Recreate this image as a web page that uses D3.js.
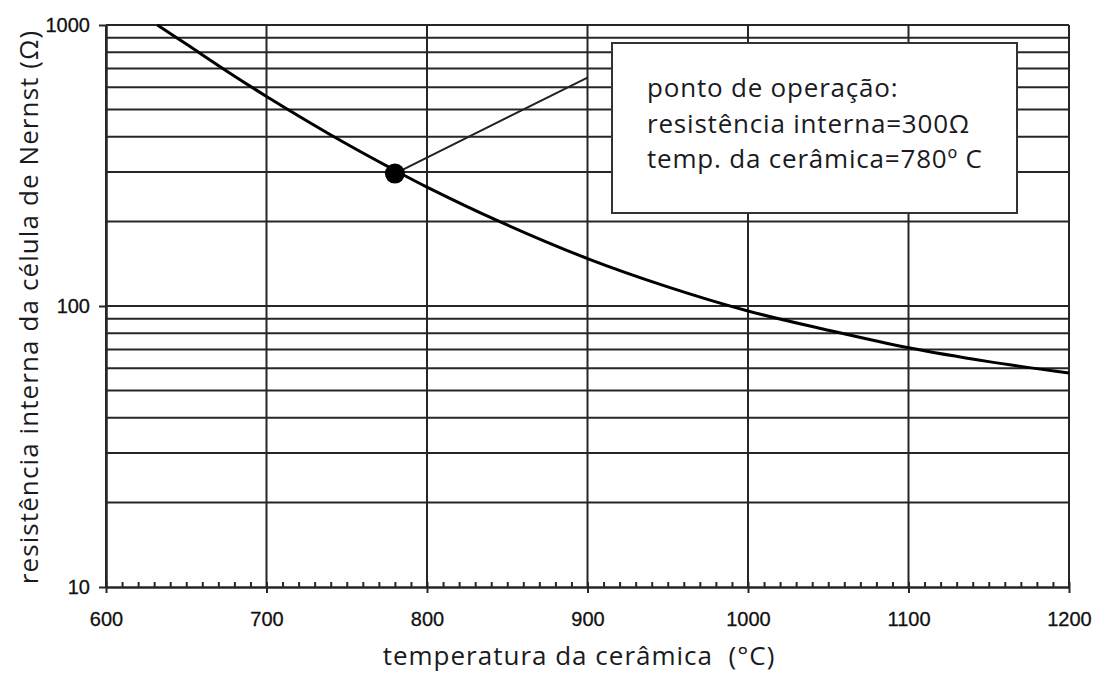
<!DOCTYPE html>
<html>
<head>
<meta charset="utf-8">
<script src="https://cdn.jsdelivr.net/npm/d3@7"></script>
<style>
  html, body { margin: 0; padding: 0; background: #fff; }
  svg { display: block; }
</style>
</head>
<body>
<svg id="chart" width="1093" height="673"></svg>
<script>
// ---- data ----
const temps       = [632, 650, 677, 700, 750, 780, 800, 845, 900, 950, 1000, 1050, 1100, 1150, 1200];
const resistances = [1000, 855, 675, 557, 377, 304, 265, 200, 147.5, 117, 96, 82, 71, 63.4, 57.8];
const opPoint     = [780, 296];
const leaderEnd   = [900, 650];
const xTickValues = [600, 700, 800, 900, 1000, 1100, 1200];
const xMinorTicks = d3.range(600, 1201, 10);
const yTickValues = [10, 100, 1000];
const yGridValues = [20, 30, 40, 50, 60, 70, 80, 90, 100, 200, 300, 400, 500, 600, 700, 800, 900, 1000];
const noteLines   = ["ponto de operação:", "resistência interna=300Ω", "temp. da cerâmica=780º C"];
const xTitle      = "temperatura da cerâmica  (°C)";
const yTitle      = "resistência interna da célula de Nernst (Ω)";

// ---- layout ----
const svg = d3.select("#chart");
const x = d3.scaleLinear().domain([600, 1200]).range([106, 1069]);
const y = d3.scaleLog().domain([10, 1000]).range([587, 25]);
const gridColor = "#262626";

// horizontal grid
svg.append("g").selectAll("line").data(yGridValues).join("line")
  .attr("x1", x(600)).attr("x2", x(1200))
  .attr("y1", d => y(d)).attr("y2", d => y(d))
  .attr("stroke", gridColor).attr("stroke-width", 2);

// vertical grid
svg.append("g").selectAll("line").data(xTickValues).join("line")
  .attr("x1", d => x(d)).attr("x2", d => x(d))
  .attr("y1", y(10)).attr("y2", y(1000))
  .attr("stroke", gridColor).attr("stroke-width", 2);

// minor x ticks (upward)
const minorAxis = svg.append("g").attr("transform", `translate(0,${y(10)})`)
  .call(d3.axisBottom(x).tickValues(xMinorTicks).tickSize(-5).tickFormat(""));
minorAxis.select(".domain").remove();
minorAxis.selectAll("line").attr("stroke", gridColor).attr("stroke-width", 2);

// major x axis
const xAxis = svg.append("g").attr("transform", `translate(0,${y(10)})`)
  .call(d3.axisBottom(x).tickValues(xTickValues).tickFormat(d3.format("d"))
    .tickSize(6).tickPadding(19).tickSizeOuter(0));
xAxis.select(".domain").attr("stroke", gridColor).attr("stroke-width", 2.5);
xAxis.selectAll("line").attr("stroke", gridColor).attr("stroke-width", 2);
xAxis.selectAll("text")
  .attr("font-family", "'Liberation Sans', Arial, sans-serif")
  .attr("font-size", 20).attr("fill", "#111")
  .attr("stroke", "#111").attr("stroke-width", 0.3);

// y axis
const yAxis = svg.append("g").attr("transform", `translate(${x(600)},0)`)
  .call(d3.axisLeft(y).tickValues(yTickValues).tickFormat(d3.format("d"))
    .tickSize(7).tickPadding(9).tickSizeOuter(0));
yAxis.select(".domain").attr("stroke", gridColor).attr("stroke-width", 2.5);
yAxis.selectAll("line").attr("stroke", gridColor).attr("stroke-width", 2);
yAxis.selectAll("text")
  .attr("font-family", "'Liberation Sans', Arial, sans-serif")
  .attr("font-size", 20).attr("fill", "#111")
  .attr("stroke", "#111").attr("stroke-width", 0.3);

// curve
const data = temps.map((t, i) => [t, resistances[i]]);
svg.append("path").datum(data)
  .attr("fill", "none").attr("stroke", "#000").attr("stroke-width", 3)
  .attr("d", d3.line().x(d => x(d[0])).y(d => y(d[1])).curve(d3.curveCatmullRom.alpha(0.5)));

// leader line
svg.append("line")
  .attr("x1", x(opPoint[0])).attr("y1", y(opPoint[1]))
  .attr("x2", x(leaderEnd[0])).attr("y2", y(leaderEnd[1]))
  .attr("stroke", "#222").attr("stroke-width", 2);

// operating point
svg.append("circle")
  .attr("cx", x(opPoint[0])).attr("cy", y(opPoint[1])).attr("r", 10)
  .attr("fill", "#000");

// annotation box
svg.append("rect")
  .attr("x", 612).attr("y", 43).attr("width", 405).attr("height", 170)
  .attr("fill", "#fff").attr("stroke", "#333").attr("stroke-width", 2);
svg.append("g").selectAll("text").data(noteLines).join("text")
  .attr("x", 647).attr("y", (d, i) => 97 + i * 35.5)
  .attr("font-family", "'Open Sans', sans-serif").attr("font-size", 26)
  .attr("letter-spacing", "0.8px")
  .attr("fill", "#1a1a22")
  .text(d => d);

// axis titles
svg.append("text")
  .attr("x", 579).attr("y", 665).attr("text-anchor", "middle")
  .attr("font-family", "'Open Sans', sans-serif").attr("font-size", 26)
  .attr("letter-spacing", "1px")
  .style("white-space", "pre")
  .attr("fill", "#1a1a22").text(xTitle);
svg.append("text")
  .attr("transform", "translate(38,307) rotate(-90)").attr("text-anchor", "middle")
  .attr("font-family", "'Open Sans', sans-serif").attr("font-size", 26)
  .attr("letter-spacing", "1.1px")
  .attr("fill", "#1a1a22").text(yTitle);
</script>
</body>
</html>
